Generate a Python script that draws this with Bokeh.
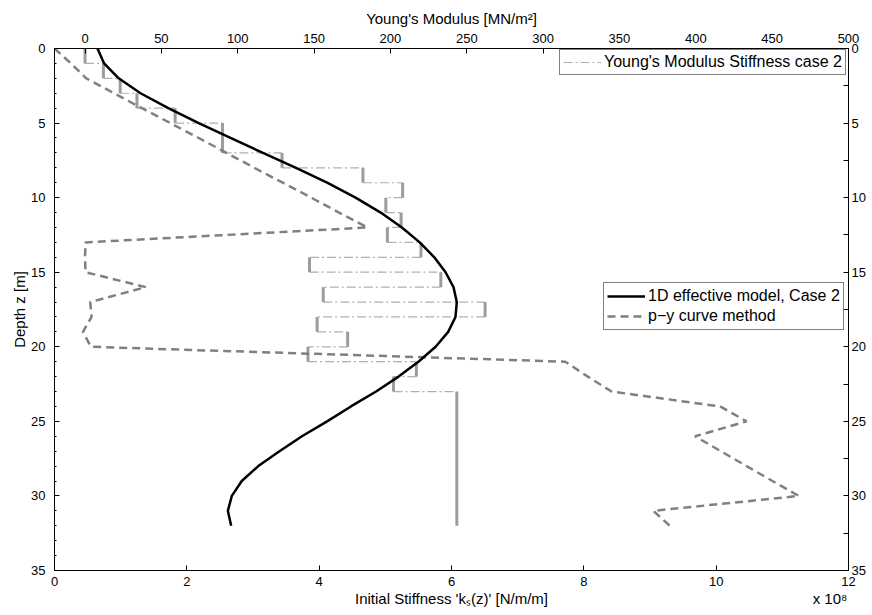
import numpy as np
from bokeh.plotting import figure
from bokeh.models import (Range1d, LinearAxis, FixedTicker, Legend, LegendItem,
                          ColumnDataSource)
from bokeh.embed import file_html
from bokeh.resources import INLINE

# ---------------- data ----------------
# 1D effective model, Case 2  (initial stiffness, units of 1e8 N/m/m)
depth_model = [0, 1, 2, 3, 4, 5, 6, 7, 8, 9, 10, 11, 12, 13, 14, 15, 16,
               17, 18, 19, 20, 21, 22, 23, 24, 25, 26, 27, 28, 29, 30, 31, 32]
k_model = [0.65, 0.75, 0.97, 1.30, 1.72, 2.18, 2.66, 3.15, 3.65, 4.12, 4.55,
           4.93, 5.25, 5.52, 5.74, 5.91, 6.03, 6.08, 6.06, 5.95, 5.76, 5.50,
           5.20, 4.86, 4.48, 4.12, 3.74, 3.40, 3.08, 2.83, 2.68, 2.62, 2.67]

# p-y curve method (units of 1e8 N/m/m)
depth_py = [0, 1, 2, 3, 4, 5, 6, 7, 8, 9, 10, 11, 12, 13, 14, 15, 16, 17, 18,
            19, 20, 21, 22, 23, 24, 25, 26, 27, 28, 29, 30, 31, 32]
k_py = [0.0, 0.25, 0.48, 0.90, 1.32, 1.75, 2.18, 2.60, 3.02, 3.45, 3.88, 4.30,
        4.73, 0.47, 0.46, 0.47, 1.38, 0.54, 0.56, 0.43, 0.55, 7.72, 8.06, 8.42,
        10.06, 10.46, 9.68, 10.07, 10.46, 10.85, 11.25, 9.05, 9.30]

# Young's modulus per layer (MN/m^2), layer top / bottom depths (m)
layer_top = [0, 1, 2, 3, 4, 5, 7, 8, 9, 10, 11, 12, 13, 14, 15, 16, 17, 18,
             19, 20, 21, 22, 23]
layer_bottom = [1, 2, 3, 4, 5, 7, 8, 9, 10, 11, 12, 13, 14, 15, 16, 17, 18,
                19, 20, 21, 22, 23, 32]
E_layer = [0, 12, 23, 34, 59, 90, 129, 182, 208, 197, 207, 198, 220, 147, 233,
           156, 262, 152, 172, 146, 217, 202, 243.5]

x_ticks = [0, 2, 4, 6, 8, 10, 12]
top_ticks = [0, 50, 100, 150, 200, 250, 300, 350, 400, 450, 500]
depth_ticks = [0, 5, 10, 15, 20, 25, 30, 35]
x_label = "Initial Stiffness 'kₛ(z)' [N/m/m]"
x_exponent = "x 10⁸"

# ---------------- figure ----------------
FONT = "Liberation Sans"
p = figure(width=872, height=615, output_backend="svg", toolbar_location=None,
           x_range=Range1d(0, 12), y_range=Range1d(35, 0),
           min_border_left=54, min_border_right=24, min_border_top=48,
           min_border_bottom=45, x_axis_location=None, y_axis_location=None)
p.extra_x_ranges = {"E": Range1d(-20, 500)}
p.grid.visible = False
p.outline_line_color = "black"
p.outline_line_width = 1
p.background_fill_color = "white"
p.border_fill_color = "white"


def style_axis(ax, label_size="13px"):
    ax.axis_line_color = "black"
    ax.major_tick_in = 5
    ax.major_tick_out = 0
    ax.minor_tick_in = 0
    ax.minor_tick_out = 0
    ax.major_tick_line_color = "black"
    ax.major_label_text_font = FONT
    ax.major_label_text_font_size = label_size
    ax.major_label_text_color = "black"
    ax.axis_label_text_font = FONT
    ax.axis_label_text_font_size = "15px"
    ax.axis_label_text_font_style = "normal"
    ax.axis_label_text_color = "black"


bottom = LinearAxis(ticker=FixedTicker(ticks=x_ticks))
style_axis(bottom)
bottom.major_label_standoff = 6
p.add_layout(bottom, "below")

# second row under the bottom axis: axis title and the x 10^8 multiplier
label_pos = [6, 11.72]
bottom2 = LinearAxis(ticker=FixedTicker(ticks=label_pos),
                     major_label_overrides={label_pos[0]: x_label,
                                            label_pos[1]: x_exponent})
style_axis(bottom2, label_size="15px")
bottom2.axis_line_color = None
bottom2.major_tick_line_color = None
bottom2.major_tick_in = 0
bottom2.major_label_standoff = 1
p.add_layout(bottom2, "below")

top = LinearAxis(x_range_name="E", axis_label="Young's Modulus [MN/m²]",
                 ticker=FixedTicker(ticks=top_ticks))
style_axis(top)
top.major_label_standoff = 6
top.axis_label_standoff = 4
p.add_layout(top, "above")

left = LinearAxis(axis_label="Depth z [m]",
                  ticker=FixedTicker(ticks=depth_ticks,
                                     minor_ticks=list(range(0, 36))))
style_axis(left)
left.minor_tick_in = 2
left.minor_tick_line_color = "black"
left.major_label_standoff = 9
left.axis_label_standoff = 0
p.add_layout(left, "left")

right = LinearAxis(ticker=FixedTicker(ticks=depth_ticks,
                                      minor_ticks=[2.5 + 5 * i for i in range(7)]))
style_axis(right)
right.minor_tick_in = 5
right.minor_tick_line_color = "black"
right.major_label_standoff = 3
p.add_layout(right, "right")

# ---------------- Young's modulus step profile (top axis) ----------------
vx = [[e, e] for e in E_layer]
vy = [[t, b] for t, b in zip(layer_top, layer_bottom)]
hx = [[E_layer[i], E_layer[i + 1]] for i in range(len(E_layer) - 1)]
hy = [[layer_bottom[i], layer_bottom[i]] for i in range(len(E_layer) - 1)]

h_r = p.multi_line(hx, hy, x_range_name="E", line_color="#b0b0b0",
                   line_width=1.2, line_dash="9 3 2 3")
v_r = p.multi_line(vx, vy, x_range_name="E", line_color="#9c9c9c",
                   line_width=3)

# ---------------- p-y curve and 1D model (bottom axis) ----------------
py_r = p.line(k_py, depth_py, line_color="#808080", line_width=2.5,
              line_dash="8 5")
m_r = p.line(k_model, depth_model, line_color="black", line_width=2.5)

# ---------------- legends ----------------
def style_legend(lg):
    lg.border_line_color = "black"
    lg.border_line_width = 1
    lg.background_fill_color = "white"
    lg.background_fill_alpha = 1
    lg.label_text_font = FONT
    lg.label_text_font_size = "16px"
    lg.label_text_color = "black"
    lg.padding = 3
    lg.margin = 0
    lg.spacing = 0
    lg.glyph_width = 38
    lg.glyph_height = 18
    lg.label_height = 18
    lg.label_standoff = 3


leg1 = Legend(items=[LegendItem(label="Young's Modulus Stiffness case 2",
                                renderers=[h_r])],
              location=(505, 495))
style_legend(leg1)
p.add_layout(leg1, "center")

leg2 = Legend(items=[LegendItem(label="1D effective model, Case 2", renderers=[m_r]),
                     LegendItem(label="p\u2212y curve method", renderers=[py_r])],
              location=(549, 240))
style_legend(leg2)
leg2.glyph_height = 20
leg2.label_height = 20
p.add_layout(leg2, "center")

open("out.html", "w").write(file_html(p, INLINE))
